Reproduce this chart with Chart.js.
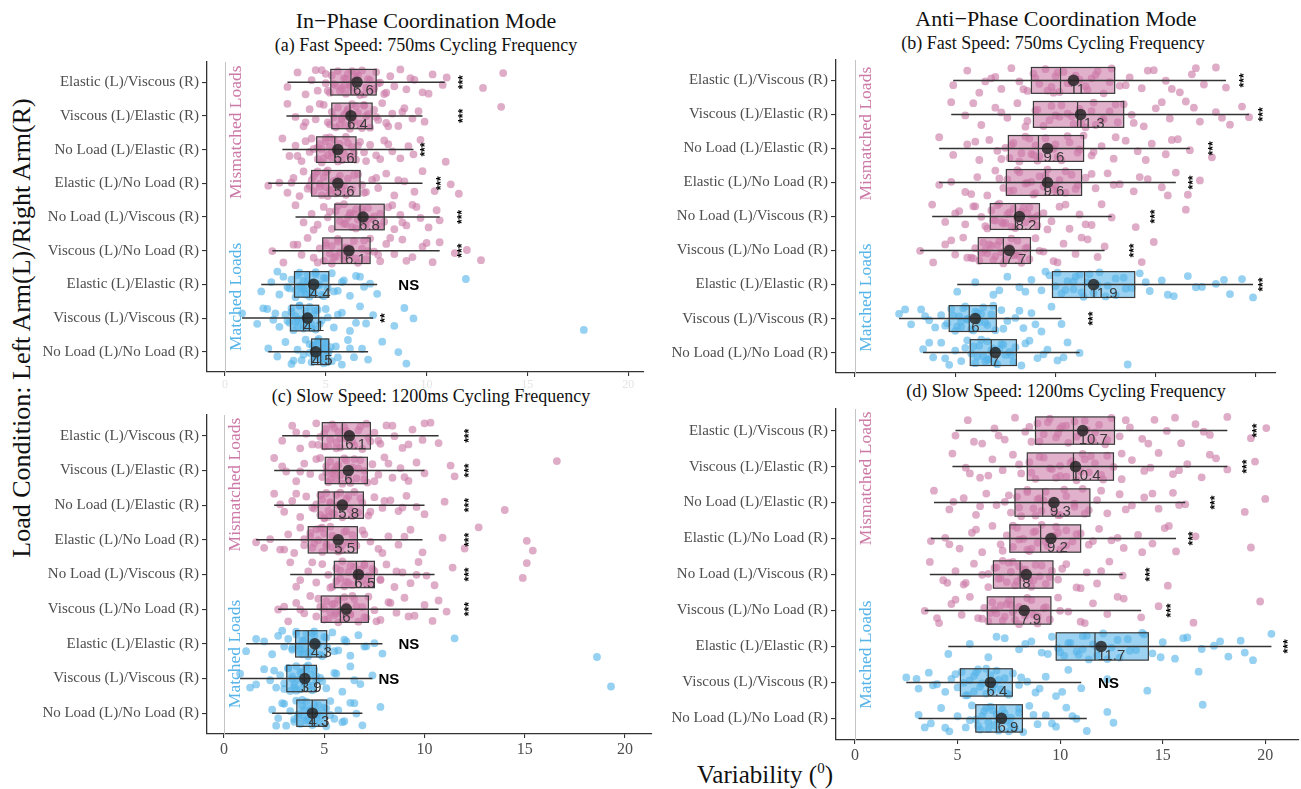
<!DOCTYPE html>
<html><head><meta charset="utf-8">
<script src="https://cdn.jsdelivr.net/npm/chart.js@4.4.1/dist/chart.umd.min.js"></script>
<style>
html,body{margin:0;padding:0;background:#fff;}
#wrap{position:relative;width:1301px;height:789px;overflow:hidden;font-family:"Liberation Serif","Times New Roman",serif;color:#111;}
canvas{position:absolute;}
.t{position:absolute;white-space:nowrap;transform:translate(-50%,-50%);line-height:1;}
</style></head><body><div id="wrap">
<div class="t" style="left:426px;top:21px;font-size:22px">In−Phase Coordination Mode</div>
<div class="t" style="left:1056px;top:19px;font-size:22px">Anti−Phase Coordination Mode</div>
<div class="t" style="left:426px;top:45px;font-size:18px">(a) Fast Speed: 750ms Cycling Frequency</div>
<div class="t" style="left:1053px;top:43px;font-size:18px">(b) Fast Speed: 750ms Cycling Frequency</div>
<div class="t" style="left:431px;top:396px;font-size:18px">(c) Slow Speed: 1200ms Cycling Frequency</div>
<div class="t" style="left:1066px;top:391px;font-size:18px">(d) Slow Speed: 1200ms Cycling Frequency</div>
<div class="t" style="left:22px;top:328px;font-size:26px;transform:translate(-50%,-50%) rotate(-90deg)">Load Condition: Left Arm(L)/Right Arm(R)</div>
<div class="t" style="left:765px;top:774px;font-size:25px">Variability (<sup style="font-size:15px">0</sup>)</div>
</div>
<script>
// ---------- data ----------
const CATEGORIES = ["Elastic (L)/Viscous (R)","Viscous (L)/Elastic (R)","No Load (L)/Elastic (R)","Elastic (L)/No Load (R)","No Load (L)/Viscous (R)","Viscous (L)/No Load (R)","Elastic (L)/Elastic (R)","Viscous (L)/Viscous (R)","No Load (L)/No Load (R)"];
const GROUP_NAMES = ["Mismatched Loads","Matched Loads"];
const X_TICKS = [0,5,10,15,20];

// box stats per row: [whisker low, Q1, median, Q3, whisker high]
const PANEL_A_BOX = [[3.1,5.25,6.25,7.5,10.9],[3.05,5.3,6.2,7.3,9.8],[2.85,4.55,5.45,6.5,9.35],[2.15,4.3,5.15,6.7,9.8],[3.5,5.45,6.7,7.9,10.65],[2.35,4.85,5.8,7.2,10.65],[1.8,3.45,4.2,5.15,7.55],[0.85,3.25,3.9,4.65,7.35],[2.15,4.3,4.75,5.15,7.1]];
const PANEL_A_MEAN = [6.55,6.25,5.6,5.6,6.85,6.15,4.4,4.1,4.5];
const PANEL_A_MEAN_LABEL = ["6.6","6.4","5.6","5.6","6.8","6.1","4.4","4.1","4.5"];
const PANEL_A_SIG = ["***","***","***","***","***","***","NS","**",""];
const PANEL_A_SIG_X = [11.75,11.75,9.85,10.65,11.7,11.7,8.6,7.85,null];

const PANEL_B_BOX = [[4.9,8.8,10.25,12.95,18.5],[4.8,8.9,11.1,13.4,19.65],[4.2,7.65,9.15,11.4,16.7],[4.2,7.55,9.5,11.3,16.0],[3.85,6.75,8.0,9.2,12.8],[3.25,6.15,7.4,8.75,12.45],[5.1,9.85,11.45,13.95,19.85],[2.2,4.7,5.7,7.05,10.3],[3.4,5.75,6.8,8.05,11.2]];
const PANEL_B_MEAN = [10.9,11.25,9.6,9.6,8.2,7.7,11.9,6.0,7.0];
const PANEL_B_MEAN_LABEL = ["11","11.3","9.6","9.6","8.2","7.7","11.9","6","7"];
const PANEL_B_SIG = ["***","***","***","***","***","***","***","***",""];
const PANEL_B_SIG_X = [19.35,20.3,17.8,16.8,14.9,13.85,20.3,11.8,null];

const PANEL_C_BOX = [[2.9,4.9,5.9,7.3,10.7],[2.5,5.05,5.75,7.15,10.0],[2.5,4.7,5.5,6.95,10.0],[1.6,4.2,5.15,6.65,9.9],[3.3,5.5,6.6,7.5,10.5],[2.7,4.85,5.8,7.2,10.7],[1.1,3.57,4.2,5.12,7.9],[0.8,3.13,4.0,4.61,7.4],[2.4,3.63,4.4,5.12,6.9]];
const PANEL_C_MEAN = [6.25,6.2,5.9,5.7,6.7,6.1,4.53,4.03,4.41];
const PANEL_C_MEAN_LABEL = ["6.1","6","5.8","5.5","6.5","6","4.3","3.9","4.3"];
const PANEL_C_SIG = ["***","***","***","***","***","***","NS","NS",""];
const PANEL_C_SIG_X = [12.15,12.15,12.15,12.15,12.15,12.15,8.7,7.7,null];

const PANEL_D_BOX = [[4.9,8.8,10.65,12.65,18.15],[4.75,8.4,10.65,12.6,18.15],[3.85,7.8,9.15,11.45,16.1],[3.7,7.55,9.05,11.0,15.65],[3.65,6.75,8.05,9.65,13.05],[3.4,6.45,7.75,9.55,13.95],[4.55,9.81,11.7,14.3,20.3],[2.5,5.14,6.5,7.67,11.03],[3.1,5.89,6.9,8.16,11.3]];
const PANEL_D_MEAN = [11.1,10.75,9.7,9.55,8.35,8.25,12.0,6.6,7.14];
const PANEL_D_MEAN_LABEL = ["10.7","10.4","9.3","9.2","8","7.9","11.7","6.4","6.9"];
const PANEL_D_SIG = ["***","***","***","***","***","***","***","NS",""];
const PANEL_D_SIG_X = [19.55,19.05,17.48,16.41,14.34,15.35,21.05,11.85,null];

// individual observations (read approximately from the jittered points)
const PANEL_A_POINTS = [
[3.1,3.6,4.0,4.3,4.6,4.8,5.0,5.2,5.3,5.5,5.6,5.8,5.9,6.0,6.1,6.2,6.3,6.4,6.5,6.7,6.8,7.0,7.1,7.3,7.5,7.7,7.9,8.2,8.4,8.7,9.0,9.4,9.8,10.3,10.8,11.0,12.8,13.8,5.4,5.7,6.0,6.2,6.5,6.9,7.2,5.1,4.5,7.6,8.0,6.6,5.9,6.3,7.4,9.2,10.1,5.0],
[3.1,3.5,3.9,4.2,4.5,4.9,5.1,5.3,5.5,5.6,5.8,5.9,6.0,6.1,6.2,6.3,6.4,6.6,6.7,6.9,7.0,7.2,7.4,7.6,7.8,8.0,8.3,8.6,8.9,9.3,9.6,9.9,13.7,5.4,5.7,6.0,6.3,6.5,6.8,7.1,5.2,4.7,7.5,8.1,6.1,5.8,6.9,4.0,8.8],
[2.85,3.2,3.5,3.8,4.0,4.2,4.4,4.6,4.7,4.8,5.0,5.1,5.2,5.3,5.4,5.5,5.6,5.7,5.9,6.0,6.2,6.3,6.5,6.7,6.9,7.2,7.5,7.9,8.3,8.7,9.1,9.35,9.7,10.95,4.6,4.9,5.2,5.5,5.8,6.1,6.4,4.3,3.6,6.6,7.0,5.0,5.3,4.8,7.7,8.1],
[2.15,2.7,3.1,3.4,3.7,3.9,4.1,4.3,4.4,4.5,4.7,4.8,4.9,5.0,5.1,5.2,5.4,5.5,5.7,5.9,6.1,6.3,6.6,6.8,7.0,7.3,7.6,8.0,8.4,8.9,9.4,9.8,11.2,11.6,4.4,4.7,5.0,5.3,5.6,6.0,6.4,4.2,3.3,6.9,7.5,5.1,4.6,5.8,8.6,10.4],
[3.5,3.9,4.3,4.6,4.9,5.1,5.3,5.5,5.7,5.9,6.0,6.2,6.3,6.5,6.6,6.8,6.9,7.1,7.3,7.5,7.7,7.9,8.1,8.4,8.7,9.0,9.3,9.7,10.1,10.5,10.65,5.6,5.9,6.2,6.5,6.8,7.1,7.4,7.7,5.2,4.4,8.3,8.8,6.4,7.0,9.5,6.1],
[2.35,2.9,3.4,3.8,4.1,4.4,4.7,4.9,5.0,5.2,5.3,5.5,5.6,5.7,5.9,6.0,6.2,6.4,6.6,6.8,7.0,7.2,7.4,7.7,8.0,8.4,8.8,9.3,9.8,10.3,10.65,11.4,12.0,12.7,5.0,5.3,5.6,5.9,6.2,6.5,6.9,7.1,4.6,3.6,7.6,8.2,5.4,6.0,9.0,10.0],
[1.8,2.3,2.7,2.9,3.1,3.3,3.5,3.6,3.7,3.8,3.9,4.0,4.1,4.2,4.3,4.4,4.5,4.6,4.8,4.9,5.1,5.3,5.6,5.9,6.2,6.5,6.9,7.2,7.55,11.95,3.5,3.7,3.9,4.1,4.3,4.5,4.7,4.9,5.0,3.2,2.6,5.4,5.8,4.0,6.7,3.8],
[0.85,1.6,2.1,2.4,2.7,3.0,3.2,3.3,3.4,3.5,3.6,3.7,3.8,3.9,4.0,4.1,4.2,4.3,4.4,4.5,4.6,4.8,5.1,5.4,5.8,6.2,6.7,7.0,7.35,8.4,8.9,9.35,17.8,3.3,3.5,3.7,3.9,4.1,4.3,4.5,3.1,2.5,4.7,5.0,3.6,4.0,5.6,6.5,1.9],
[2.15,2.6,3.0,3.3,3.6,3.8,4.0,4.2,4.3,4.4,4.5,4.6,4.7,4.8,4.9,5.0,5.1,5.15,5.3,5.5,5.8,6.1,6.4,6.8,7.1,7.8,8.6,9.0,4.35,4.5,4.65,4.8,4.95,5.1,4.2,3.9,5.25,5.6,4.6,4.9,3.4,6.2,4.4,5.0]];
const PANEL_B_POINTS = [
[4.9,5.6,6.2,6.8,7.3,7.8,8.2,8.6,8.9,9.2,9.5,9.8,10.0,10.2,10.4,10.8,11.2,11.6,12.0,12.4,12.8,13.2,13.7,14.3,14.9,15.5,16.2,16.8,17.4,18.0,18.5,9.0,9.6,10.1,10.6,11.0,11.5,12.1,12.7,8.4,7.0,13.5,14.6,9.9,11.8,15.8,17.0,6.5],
[4.8,5.5,6.3,7.0,7.6,8.1,8.6,9.0,9.4,9.8,10.2,10.6,10.9,11.2,11.5,11.9,12.3,12.7,13.1,13.4,13.8,14.4,15.0,15.7,16.5,17.2,18.0,18.7,19.3,19.65,9.1,9.7,10.3,10.8,11.3,11.8,12.4,13.0,8.5,7.3,13.9,15.3,10.0,12.0,16.9,18.3,5.9],
[4.2,4.9,5.6,6.2,6.7,7.1,7.5,7.7,7.9,8.2,8.5,8.8,9.0,9.2,9.5,9.9,10.3,10.7,11.1,11.4,11.8,12.3,12.9,13.5,14.1,14.8,15.5,16.1,16.7,17.8,7.8,8.3,8.7,9.1,9.6,10.1,10.6,11.2,7.3,6.0,11.9,13.0,8.9,10.0,14.5,15.8],
[4.2,4.8,5.5,6.1,6.6,7.0,7.4,7.6,7.9,8.2,8.6,8.9,9.2,9.4,9.6,9.9,10.2,10.5,10.8,11.1,11.5,12.0,12.6,13.2,13.9,14.6,15.3,16.0,16.6,17.2,7.7,8.1,8.5,9.0,9.5,10.0,10.5,11.0,7.2,5.8,11.8,12.9,8.8,10.1,14.2,15.6],
[3.85,4.5,5.0,5.5,5.9,6.3,6.6,6.8,7.0,7.2,7.4,7.6,7.8,7.9,8.1,8.3,8.5,8.7,8.9,9.1,9.4,9.8,10.2,10.7,11.2,11.8,12.3,12.8,14.0,16.5,6.9,7.1,7.5,7.7,8.0,8.4,8.8,9.1,6.5,5.2,9.6,10.5,7.3,8.6,11.5,6.0],
[3.25,3.9,4.5,5.0,5.4,5.8,6.0,6.2,6.4,6.6,6.8,7.0,7.2,7.3,7.5,7.7,7.9,8.1,8.3,8.5,8.7,9.0,9.4,9.9,10.4,11.0,11.6,12.1,12.45,14.3,14.9,6.3,6.5,6.9,7.1,7.4,7.8,8.2,8.6,5.9,4.8,9.2,10.1,6.7,8.0,11.3,5.6],
[5.1,6.0,6.9,7.6,8.2,8.8,9.3,9.7,10.0,10.3,10.6,10.9,11.2,11.4,11.6,11.9,12.2,12.6,13.0,13.4,13.8,14.2,14.7,15.3,15.9,16.6,17.3,18.0,18.7,19.3,19.85,10.1,10.5,10.9,11.3,11.7,12.1,12.5,13.0,13.5,9.5,8.5,14.5,15.6,11.0,17.0,18.4,7.2],
[2.2,2.8,3.3,3.7,4.0,4.3,4.6,4.8,5.0,5.2,5.3,5.5,5.6,5.8,6.0,6.2,6.4,6.6,6.8,7.0,7.3,7.6,8.0,8.4,8.8,9.3,9.8,10.3,4.9,5.1,5.4,5.6,5.9,6.1,6.5,6.9,4.5,3.5,7.4,8.2,5.3,6.3,9.0,2.5],
[3.4,3.9,4.3,4.7,5.0,5.3,5.6,5.8,6.0,6.2,6.4,6.6,6.7,6.9,7.1,7.3,7.5,7.7,7.9,8.0,8.3,8.7,9.1,9.6,10.1,10.6,11.2,13.6,5.9,6.1,6.3,6.6,6.8,7.0,7.4,7.8,5.5,4.5,8.5,9.4,6.5,7.2,10.4,3.7]];
const PANEL_C_POINTS = [
[2.9,3.4,3.8,4.1,4.4,4.6,4.8,5.0,5.1,5.3,5.4,5.6,5.7,5.8,6.0,6.1,6.3,6.5,6.7,6.9,7.1,7.3,7.5,7.8,8.1,8.5,8.9,9.4,9.9,10.3,10.7,5.0,5.2,5.5,5.8,6.1,6.4,6.8,7.2,4.7,3.6,7.7,8.4,5.6,6.2,9.2,10.0],
[2.5,3.1,3.6,4.0,4.3,4.6,4.9,5.1,5.2,5.3,5.4,5.5,5.6,5.7,5.9,6.0,6.2,6.4,6.6,6.8,7.0,7.15,7.4,7.7,8.0,8.4,8.8,9.2,9.6,10.0,11.3,11.5,16.6,5.1,5.3,5.6,5.8,6.1,6.3,6.7,7.0,4.8,3.8,7.5,8.2,5.5,6.5,9.0,2.9],
[2.5,3.0,3.4,3.8,4.1,4.4,4.6,4.8,4.9,5.0,5.1,5.2,5.3,5.4,5.6,5.7,5.9,6.1,6.3,6.5,6.7,6.9,7.2,7.5,7.9,8.3,8.7,9.1,9.6,10.0,11.0,14.0,4.8,5.0,5.3,5.5,5.8,6.0,6.4,6.8,4.5,3.6,7.3,8.0,5.2,6.2,8.9,2.8],
[1.6,2.3,2.8,3.2,3.5,3.8,4.0,4.3,4.4,4.6,4.7,4.9,5.0,5.1,5.3,5.4,5.6,5.8,6.0,6.2,6.4,6.6,6.9,7.3,7.7,8.2,8.7,9.3,9.9,10.9,12.0,12.7,15.1,15.4,4.3,4.5,4.8,5.1,5.4,5.7,6.1,6.5,4.0,3.0,7.0,7.9,4.9,5.9,9.0,2.0],
[3.3,3.8,4.2,4.6,4.9,5.2,5.4,5.6,5.8,5.9,6.1,6.2,6.4,6.5,6.7,6.8,6.9,7.0,7.2,7.3,7.5,7.8,8.1,8.5,8.9,9.3,9.7,10.1,10.5,11.4,14.9,15.1,5.6,5.8,6.0,6.3,6.6,6.8,7.1,7.4,5.3,4.4,7.8,8.6,6.2,7.0,9.6,3.6],
[2.7,3.2,3.6,4.0,4.3,4.6,4.8,5.0,5.1,5.3,5.4,5.5,5.7,5.8,6.0,6.1,6.3,6.5,6.7,6.9,7.1,7.2,7.5,7.8,8.2,8.6,9.0,9.5,10.0,10.4,10.7,11.1,5.0,5.2,5.5,5.7,6.0,6.3,6.6,7.0,4.7,3.8,7.6,8.3,5.6,6.4,9.2,3.0],
[1.1,2.0,2.4,2.7,3.0,3.2,3.4,3.6,3.7,3.8,3.9,4.0,4.1,4.2,4.3,4.4,4.5,4.7,4.8,5.0,5.15,5.4,5.7,6.0,6.3,6.7,7.1,7.5,7.9,11.5,18.6,3.6,3.8,4.0,4.2,4.4,4.6,4.9,5.1,3.4,2.9,5.5,6.1,3.9,4.5,7.0,1.6],
[0.8,1.6,2.0,2.3,2.6,2.8,3.0,3.2,3.3,3.4,3.5,3.6,3.7,3.8,3.9,4.0,4.1,4.2,4.3,4.4,4.5,4.6,4.8,5.1,5.5,5.9,6.3,6.8,7.4,19.3,3.2,3.4,3.6,3.8,4.0,4.2,4.4,4.6,3.0,2.5,4.9,5.6,3.5,4.1,6.5,1.3],
[2.4,2.7,2.9,3.1,3.3,3.5,3.6,3.7,3.8,3.9,4.0,4.1,4.2,4.3,4.4,4.5,4.6,4.7,4.8,5.0,5.1,5.3,5.5,5.7,6.0,6.3,6.6,6.9,7.8,3.7,3.9,4.1,4.3,4.5,4.7,4.9,5.1,3.5,3.0,5.3,5.9,4.0,4.6,6.5,2.6]];
const PANEL_D_POINTS = [
[4.9,5.5,6.2,6.8,7.3,7.8,8.3,8.6,8.9,9.2,9.5,9.8,10.1,10.4,10.7,11.0,11.3,11.6,11.9,12.2,12.5,12.9,13.4,14.0,14.6,15.2,15.9,16.6,17.3,18.15,19.3,20.05,9.0,9.4,9.9,10.3,10.8,11.2,11.7,12.3,8.5,7.0,13.2,14.3,10.0,11.5,15.6,17.0,5.8],
[4.75,5.4,6.1,6.7,7.2,7.7,8.1,8.5,8.8,9.2,9.6,10.0,10.3,10.6,10.8,11.1,11.4,11.7,12.0,12.3,12.6,13.0,13.5,14.1,14.8,15.5,16.2,16.9,17.6,18.15,19.5,8.6,9.0,9.5,10.0,10.5,11.0,11.5,12.1,8.0,6.5,13.0,14.4,9.8,11.2,15.8,17.3,5.6],
[3.85,4.6,5.3,5.9,6.4,6.9,7.3,7.6,7.9,8.1,8.4,8.7,8.9,9.1,9.3,9.6,9.9,10.3,10.7,11.1,11.4,11.8,12.3,12.9,13.5,14.1,14.8,15.5,16.1,19.0,20.0,8.0,8.4,8.8,9.2,9.7,10.2,10.7,11.2,7.5,6.1,12.0,13.2,9.0,10.0,14.5,15.8,4.8],
[3.7,4.4,5.1,5.7,6.2,6.7,7.1,7.4,7.7,7.9,8.2,8.5,8.7,8.9,9.1,9.4,9.7,10.0,10.3,10.6,11.0,11.4,11.9,12.5,13.1,13.8,14.5,15.1,15.65,16.6,19.3,7.7,8.0,8.4,8.8,9.3,9.8,10.3,10.8,7.2,5.9,11.6,12.8,8.6,9.9,14.0,15.3,4.6],
[3.65,4.3,4.9,5.4,5.8,6.2,6.5,6.8,7.0,7.2,7.4,7.6,7.8,8.0,8.1,8.3,8.5,8.8,9.0,9.3,9.6,9.9,10.3,10.8,11.3,11.8,12.4,13.05,15.25,6.9,7.1,7.5,7.9,8.2,8.6,9.1,9.5,6.5,5.3,10.1,11.0,7.7,8.7,12.0,4.5],
[3.4,4.1,4.7,5.2,5.6,6.0,6.3,6.5,6.7,6.9,7.1,7.3,7.5,7.7,7.8,8.0,8.3,8.6,8.9,9.2,9.5,9.9,10.4,11.0,11.6,12.3,13.1,13.95,14.8,16.5,19.75,6.6,6.8,7.2,7.6,8.0,8.4,8.9,9.3,6.2,4.9,10.0,11.2,7.4,8.7,12.8,4.0],
[4.55,5.6,6.5,7.3,8.0,8.6,9.1,9.6,9.9,10.2,10.5,10.8,11.1,11.4,11.6,11.8,12.1,12.5,12.9,13.3,13.7,14.1,14.5,15.0,15.6,16.2,16.9,17.5,18.2,18.8,19.4,20.3,10.0,10.4,10.9,11.3,11.8,12.3,12.8,13.4,14.0,9.4,8.3,14.9,16.0,11.1,17.8,19.0,6.9],
[2.5,3.1,3.6,4.0,4.4,4.7,5.0,5.2,5.4,5.6,5.8,6.0,6.2,6.4,6.6,6.7,6.9,7.1,7.3,7.5,7.7,8.0,8.4,8.8,9.3,9.8,10.4,11.03,12.3,14.25,16.75,5.3,5.5,5.8,6.1,6.4,6.7,7.0,7.4,4.9,3.8,8.1,9.0,5.9,6.8,10.1,3.0],
[3.1,3.7,4.2,4.6,5.0,5.4,5.7,5.9,6.1,6.3,6.5,6.6,6.8,6.9,7.0,7.2,7.4,7.6,7.8,8.0,8.2,8.5,8.9,9.3,9.8,10.3,10.8,11.3,12.3,12.6,16.95,6.0,6.2,6.5,6.7,7.0,7.3,7.6,8.0,5.6,4.4,8.7,9.6,6.4,7.5,10.6,3.4]];

// ---------- styling / layout ----------
const JITTER = [0.14,-0.29,0.36,-0.06,0.25,-0.36,0.03,0.31,-0.2,0.1,-0.33,0.19,-0.12,0.34,-0.25,0.07,-0.02,0.28,-0.16,0.38,-0.35,0.16,-0.09,0.23,-0.3,0.01,0.35,-0.18,0.12,-0.38,0.21,-0.07,0.3,-0.23,0.08,-0.14,0.17,-0.27,0.05,0.26,-0.1];
const PINK = "#CC79A7", BLUE = "#56B4E9";
const PINK_PT = "rgba(204,121,167,0.62)", BLUE_PT = "rgba(86,180,233,0.62)";
const PINK_BOX = "rgba(204,121,167,0.58)", BLUE_BOX = "rgba(86,180,233,0.58)";

const PANELS = [
 {box:PANEL_A_BOX,mean:PANEL_A_MEAN,lab:PANEL_A_MEAN_LABEL,sig:PANEL_A_SIG,sigX:PANEL_A_SIG_X,points:PANEL_A_POINTS,
  axisX:207,plotTop:59.6,plotBottom:372.4,plotRight:644,xMin:-0.89,xMax:20.74,xLabels:"faint",groupTop:[-0.5,4.76]},
 {box:PANEL_B_BOX,mean:PANEL_B_MEAN,lab:PANEL_B_MEAN_LABEL,sig:PANEL_B_SIG,sigX:PANEL_B_SIG_X,points:PANEL_B_POINTS,
  axisX:836,plotTop:57.5,plotBottom:372.5,plotRight:1276,xMin:-0.945,xMax:20.95,xLabels:"none",groupTop:[-0.4,4.79]},
 {box:PANEL_C_BOX,mean:PANEL_C_MEAN,lab:PANEL_C_MEAN_LABEL,sig:PANEL_C_SIG,sigX:PANEL_C_SIG_X,points:PANEL_C_POINTS,
  axisX:207,plotTop:413,plotBottom:734,plotRight:652,xMin:-0.85,xMax:21.3,xLabels:"show",groupTop:[-0.52,4.73]},
 {box:PANEL_D_BOX,mean:PANEL_D_MEAN,lab:PANEL_D_MEAN_LABEL,sig:PANEL_D_SIG,sigX:PANEL_D_SIG_X,points:PANEL_D_POINTS,
  axisX:836,plotTop:407,plotBottom:740,plotRight:1299,xMin:-0.925,xMax:21.6,xLabels:"show",groupTop:[-0.53,4.72]}
];

function boxPlugin(p){
  return {
    id:"boxes",
    beforeDatasetsDraw(chart){
      const {ctx, chartArea:a, scales:{x,y}} = chart;
      const x0 = x.getPixelForValue(0);
      ctx.save();
      ctx.strokeStyle = "#c4c4c4"; ctx.lineWidth = 1;
      ctx.beginPath(); ctx.moveTo(Math.round(x0)+0.5, a.top); ctx.lineTo(Math.round(x0)+0.5, a.bottom); ctx.stroke();
      ctx.font = '17.5px "Liberation Serif"'; ctx.textAlign = "right"; ctx.textBaseline = "middle";
      [[GROUP_NAMES[0],p.groupTop[0],PINK],[GROUP_NAMES[1],p.groupTop[1],BLUE]].forEach(([t,v,c])=>{
        ctx.save(); ctx.translate(x0+11.5, y.getPixelForValue(v)); ctx.rotate(-Math.PI/2);
        ctx.fillStyle = c; ctx.fillText(t,0,0); ctx.restore();
      });
      ctx.restore();
    },
    afterDatasetsDraw(chart){
      const {ctx, scales:{x,y}} = chart;
      const band = Math.abs(y.getPixelForValue(1)-y.getPixelForValue(0));
      const h = band*0.38;
      ctx.save();
      p.box.forEach((b,r)=>{
        const [lo,q1,md,q3,hi] = b;
        const yc = y.getPixelForValue(r);
        const X1 = x.getPixelForValue(q1), X3 = x.getPixelForValue(q3);
        ctx.fillStyle = r<6 ? PINK_BOX : BLUE_BOX;
        ctx.fillRect(X1, yc-h, X3-X1, 2*h);
        ctx.strokeStyle = "#3a3a3a"; ctx.lineWidth = 1.2;
        ctx.strokeRect(X1, yc-h, X3-X1, 2*h);
        const XM = x.getPixelForValue(md);
        ctx.beginPath(); ctx.moveTo(XM, yc-h); ctx.lineTo(XM, yc+h); ctx.stroke();
        ctx.strokeStyle = "#333"; ctx.lineWidth = 1.5;
        ctx.beginPath(); ctx.moveTo(x.getPixelForValue(lo), yc); ctx.lineTo(x.getPixelForValue(hi), yc); ctx.stroke();
        const xm = x.getPixelForValue(p.mean[r]);
        ctx.fillStyle = "rgba(35,35,35,0.82)";
        ctx.beginPath(); ctx.arc(xm, yc, 5.8, 0, Math.PI*2); ctx.fill();
        ctx.fillStyle = "#383838"; ctx.font = '15px "Liberation Sans"';
        ctx.textAlign = "left"; ctx.textBaseline = "middle";
        ctx.fillText(p.lab[r], xm-4, yc+9);
        const s = p.sig[r];
        if (s) {
          const xs = x.getPixelForValue(p.sigX[r]);
          ctx.fillStyle = "#000";
          if (s === "NS") {
            ctx.font = 'bold 15px "Liberation Sans"'; ctx.textAlign = "left"; ctx.textBaseline = "middle";
            ctx.fillText(s, xs, yc+1);
          } else {
            ctx.save(); ctx.translate(xs, yc); ctx.rotate(-Math.PI/2);
            ctx.font = 'bold 12px "Liberation Sans"'; ctx.textAlign = "center"; ctx.textBaseline = "middle";
            ctx.fillText(s, 0, 2); ctx.restore();
          }
        }
      });
      ctx.restore();
    }
  };
}

const wrap = document.getElementById("wrap");
PANELS.forEach(p=>{
  const W = 180;
  const left = p.axisX - W, top = Math.round(p.plotTop - 10);
  const padTop = p.plotTop - top;
  const width = Math.round(p.plotRight - left + 3), height = Math.round(p.plotBottom - top + 26);
  const cv = document.createElement("canvas");
  cv.width = width; cv.height = height;
  cv.style.left = left + "px"; cv.style.top = top + "px";
  cv.style.width = width + "px"; cv.style.height = height + "px";
  wrap.appendChild(cv);
  const pink = [], blue = [];
  p.points.forEach((vals,r)=>vals.forEach((v,k)=>{
    const pt = {x:v, y:r + JITTER[(k + r*5) % JITTER.length]};
    (r<6 ? pink : blue).push(pt);
  }));
  const gridCfg = {display:true, drawOnChartArea:false, drawTicks:true, tickLength:5, color:"#333", lineWidth:1.1};
  new Chart(cv, {
    type:"scatter",
    data:{datasets:[
      {data:pink, backgroundColor:PINK_PT, pointRadius:3.9, pointHoverRadius:3.9, borderWidth:0},
      {data:blue, backgroundColor:BLUE_PT, pointRadius:3.9, pointHoverRadius:3.9, borderWidth:0}]},
    options:{
      responsive:false, animation:false, events:[],
      layout:{padding:{top:padTop, right:3, left:0, bottom:0}},
      plugins:{legend:{display:false}, tooltip:{enabled:false}},
      scales:{
        x:{type:"linear", min:p.xMin, max:p.xMax,
           afterBuildTicks:s=>{s.ticks = X_TICKS.map(v=>({value:v}));},
           afterFit:s=>{s.height = 26;},
           grid:Object.assign({}, gridCfg, {tickLength:4}),
           border:{display:true, color:"#333", width:1.3},
           ticks:{display:p.xLabels!=="none", color:p.xLabels==="faint"?"#e4e4e4":"#4d4d4d",
                  font:{family:"Liberation Serif", size:p.xLabels==="faint"?12:16}, padding:2, maxRotation:0,
                  callback:v=>String(v)}},
        y:{type:"linear", reverse:true, min:-0.6, max:8.6,
           afterBuildTicks:s=>{s.ticks = CATEGORIES.map((c,i)=>({value:i}));},
           afterFit:s=>{s.width = W;},
           grid:gridCfg,
           border:{display:true, color:"#333", width:1.3},
           ticks:{color:"#4d4d4d", font:{family:"Liberation Serif", size:15}, padding:3,
                  callback:v=>CATEGORIES[v]}}
      }
    },
    plugins:[boxPlugin(p)]
  });
});
</script>
</body></html>
